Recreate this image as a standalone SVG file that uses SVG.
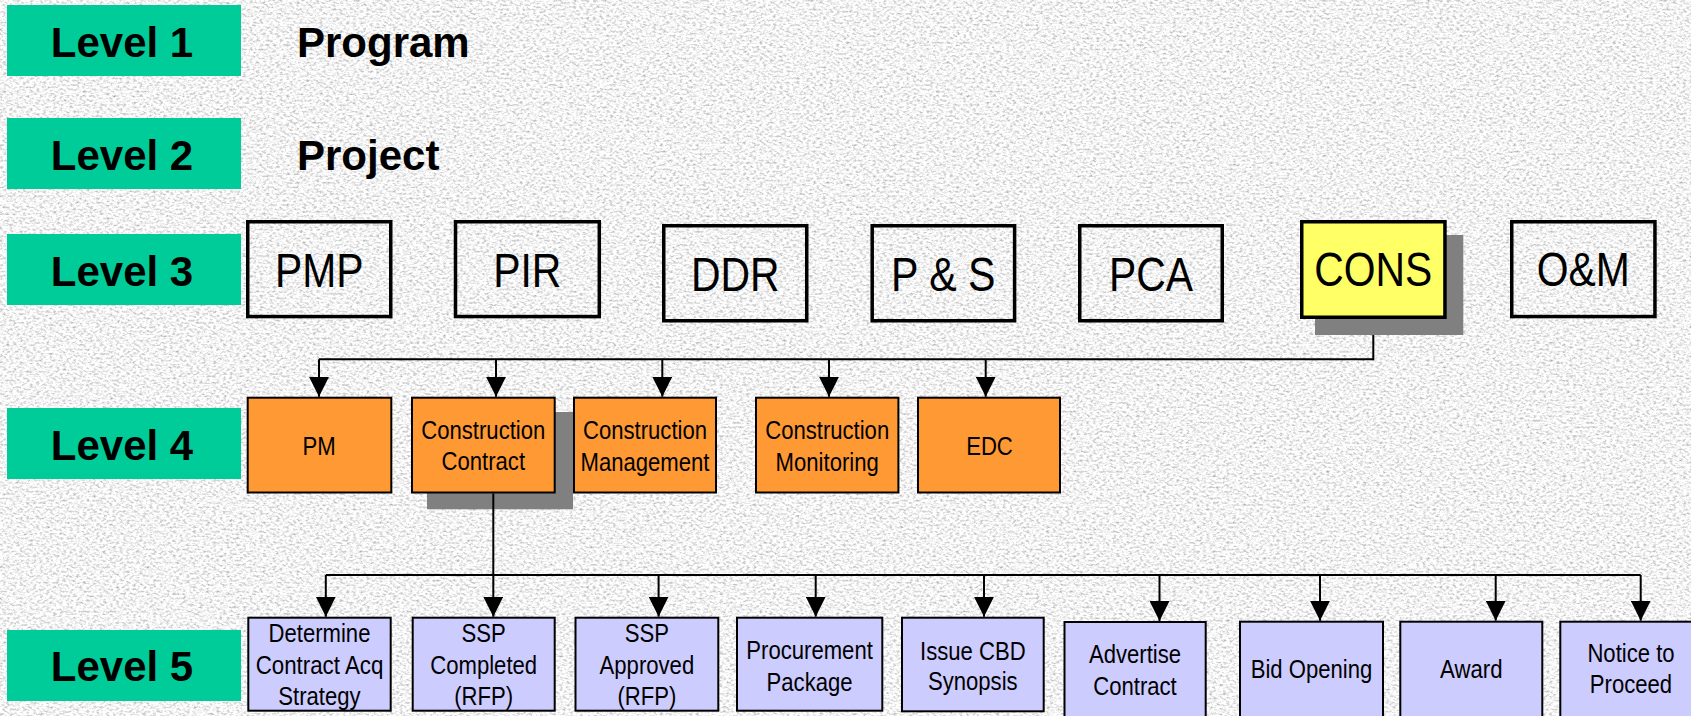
<svg xmlns="http://www.w3.org/2000/svg" width="1691" height="716" viewBox="0 0 1691 716">
<defs>
  <filter id="tex" x="0" y="0" width="1691" height="716" filterUnits="userSpaceOnUse">
    <feTurbulence type="fractalNoise" baseFrequency="0.3 0.45" numOctaves="3" seed="7" result="n"/>
    <feColorMatrix type="matrix" values="1.2 0 0 0 0.3  1.2 0 0 0 0.3  1.2 0 0 0 0.3  0 0 0 0 1"/>
  </filter>
  <marker id="arr" viewBox="0 0 20 20" refX="20" refY="10" markerWidth="20" markerHeight="20" orient="auto" markerUnits="userSpaceOnUse">
    <path d="M0,0 L20,10 L0,20 z" fill="#000"/>
  </marker>
  <style>
    .lvl { fill: #00CC99; }
    .lvlt { font-family: "Liberation Sans", Arial, sans-serif; font-weight: bold; font-size: 42px; fill: #000; }
    .l3 { fill: none; stroke: #000; stroke-width: 3.5; }
    .l3t { font-family: "Liberation Sans Narrow", "Liberation Sans", Arial, sans-serif; font-size: 47.5px; fill: #000; text-anchor: middle; }
    .l4 { fill: #FF9933; stroke: #000; stroke-width: 2; }
    .l5 { fill: #CCCCFF; stroke: #000; stroke-width: 2; }
    .bt { font-family: "Liberation Sans Narrow", "Liberation Sans", Arial, sans-serif; font-size: 25px; fill: #000; text-anchor: middle; }
    .sh { fill: #808080; }
    .cn { fill: none; stroke: #000; stroke-width: 2; }
    .ca { fill: none; stroke: #000; stroke-width: 2; marker-end: url(#arr); }
  </style>
</defs>

<rect x="0" y="0" width="1691" height="716" fill="#e6e6e6" filter="url(#tex)"/>

<g id="level-labels">
  <g id="level1"><rect class="lvl" x="7" y="5" width="234" height="71"/><text class="lvlt" x="122" y="56.7" text-anchor="middle">Level 1</text></g>
  <g id="level2"><rect class="lvl" x="7" y="118" width="234" height="71"/><text class="lvlt" x="122" y="170" text-anchor="middle">Level 2</text></g>
  <g id="level3"><rect class="lvl" x="7" y="234" width="234" height="71"/><text class="lvlt" x="122" y="285.5" text-anchor="middle">Level 3</text></g>
  <g id="level4"><rect class="lvl" x="7" y="408" width="234" height="71"/><text class="lvlt" x="122" y="459.5" text-anchor="middle">Level 4</text></g>
  <g id="level5"><rect class="lvl" x="7" y="630" width="234" height="71"/><text class="lvlt" x="122" y="681" text-anchor="middle">Level 5</text></g>
</g>

<g id="program"><text class="lvlt" x="297" y="56.7">Program</text></g>
<g id="project"><text class="lvlt" x="297" y="170">Project</text></g>

<g id="n-pmp"><rect class="l3" x="247.75" y="221.75" width="143" height="94.8"/><text class="l3t" x="319.3" y="287.3" textLength="88.5" lengthAdjust="spacingAndGlyphs">PMP</text></g>
<g id="n-pir"><rect class="l3" x="455.5" y="221.75" width="143.8" height="94.8"/><text class="l3t" x="527.3" y="287.3" textLength="68.1" lengthAdjust="spacingAndGlyphs">PIR</text></g>
<g id="n-ddr"><rect class="l3" x="663.75" y="225.75" width="143" height="95"/><text class="l3t" x="735.3" y="290.7" textLength="88.5" lengthAdjust="spacingAndGlyphs">DDR</text></g>
<g id="n-ps"><rect class="l3" x="872.2" y="225.75" width="142.4" height="95"/><text class="l3t" x="943.3" y="290.5" textLength="104.5" lengthAdjust="spacingAndGlyphs">P &amp; S</text></g>
<g id="n-pca"><rect class="l3" x="1079.75" y="225.75" width="142.5" height="95"/><text class="l3t" x="1151" y="290.7" textLength="84" lengthAdjust="spacingAndGlyphs">PCA</text></g>
<g id="n-cons"><rect class="sh" x="1315" y="235" width="148.3" height="100"/><rect x="1301.75" y="221.75" width="143.2" height="95.5" fill="#FFFF66" stroke="#000" stroke-width="3.5"/><text class="l3t" x="1373.3" y="286.2" textLength="118" lengthAdjust="spacingAndGlyphs">CONS</text></g>
<g id="n-om"><rect class="l3" x="1511.75" y="221.75" width="143.2" height="94.8"/><text class="l3t" x="1583.3" y="286.2" textLength="93.1" lengthAdjust="spacingAndGlyphs">O&amp;M</text></g>

<g id="n-pm"><rect class="l4" x="247.7" y="397.7" width="143.6" height="94.8"/><text class="bt" x="319" y="455" textLength="33.2" lengthAdjust="spacingAndGlyphs">PM</text></g>
<g id="n-cc"><rect class="sh" x="427" y="412" width="146" height="97.3"/><rect class="l4" x="412" y="397.7" width="142.7" height="94.8"/><text class="bt" x="483.3" y="438.7" textLength="124" lengthAdjust="spacingAndGlyphs">Construction</text><text class="bt" x="483.3" y="470" textLength="83.5" lengthAdjust="spacingAndGlyphs">Contract</text></g>
<g id="n-cm"><rect class="l4" x="574" y="397.7" width="142" height="94.8"/><text class="bt" x="645" y="439" textLength="124" lengthAdjust="spacingAndGlyphs">Construction</text><text class="bt" x="645" y="470.5" textLength="129" lengthAdjust="spacingAndGlyphs">Management</text></g>
<g id="n-cmon"><rect class="l4" x="756" y="397.7" width="142.4" height="94.8"/><text class="bt" x="827.2" y="439" textLength="124" lengthAdjust="spacingAndGlyphs">Construction</text><text class="bt" x="827.2" y="470.5" textLength="103.2" lengthAdjust="spacingAndGlyphs">Monitoring</text></g>
<g id="n-edc"><rect class="l4" x="918" y="397.7" width="142" height="94.8"/><text class="bt" x="989.5" y="455" textLength="46.7" lengthAdjust="spacingAndGlyphs">EDC</text></g>

<g id="n-dcas"><rect class="l5" x="248.3" y="617.7" width="142.4" height="93"/><text class="bt" x="319.5" y="642.3" textLength="101.9" lengthAdjust="spacingAndGlyphs">Determine</text><text class="bt" x="319.5" y="674" textLength="127.7" lengthAdjust="spacingAndGlyphs">Contract Acq</text><text class="bt" x="319.5" y="705" textLength="82.3" lengthAdjust="spacingAndGlyphs">Strategy</text></g>
<g id="n-sspc"><rect class="l5" x="412.7" y="617.7" width="142" height="93"/><text class="bt" x="483.7" y="642.3" textLength="44.2" lengthAdjust="spacingAndGlyphs">SSP</text><text class="bt" x="483.7" y="674" textLength="106.9" lengthAdjust="spacingAndGlyphs">Completed</text><text class="bt" x="483.7" y="705" textLength="58.9" lengthAdjust="spacingAndGlyphs">(RFP)</text></g>
<g id="n-sspa"><rect class="l5" x="575.5" y="617.7" width="142.8" height="93"/><text class="bt" x="646.9" y="642.3" textLength="44.2" lengthAdjust="spacingAndGlyphs">SSP</text><text class="bt" x="646.9" y="674" textLength="94.6" lengthAdjust="spacingAndGlyphs">Approved</text><text class="bt" x="646.9" y="705" textLength="58.9" lengthAdjust="spacingAndGlyphs">(RFP)</text></g>
<g id="n-proc"><rect class="l5" x="737" y="617.7" width="145.3" height="93"/><text class="bt" x="809.6" y="659" textLength="126.5" lengthAdjust="spacingAndGlyphs">Procurement</text><text class="bt" x="809.6" y="690.5" textLength="86" lengthAdjust="spacingAndGlyphs">Package</text></g>
<g id="n-cbd"><rect class="l5" x="902" y="617.7" width="141.7" height="93.6"/><text class="bt" x="972.8" y="660" textLength="105.6" lengthAdjust="spacingAndGlyphs">Issue CBD</text><text class="bt" x="972.8" y="690" textLength="89.7" lengthAdjust="spacingAndGlyphs">Synopsis</text></g>
<g id="n-adv"><rect class="l5" x="1064.5" y="622" width="141.2" height="100"/><text class="bt" x="1135" y="663.3" textLength="92.1" lengthAdjust="spacingAndGlyphs">Advertise</text><text class="bt" x="1135" y="695" textLength="83.5" lengthAdjust="spacingAndGlyphs">Contract</text></g>
<g id="n-bid"><rect class="l5" x="1240" y="621.7" width="143" height="100"/><text class="bt" x="1311.5" y="678.3" textLength="121.6" lengthAdjust="spacingAndGlyphs">Bid Opening</text></g>
<g id="n-award"><rect class="l5" x="1400.3" y="621.7" width="142" height="100"/><text class="bt" x="1471.3" y="678.3" textLength="62.6" lengthAdjust="spacingAndGlyphs">Award</text></g>
<g id="n-ntp"><rect class="l5" x="1560.3" y="621.7" width="143" height="100"/><text class="bt" x="1631" y="661.7" textLength="87.2" lengthAdjust="spacingAndGlyphs">Notice to</text><text class="bt" x="1631" y="693.3" textLength="82.3" lengthAdjust="spacingAndGlyphs">Proceed</text></g>

<g id="connectors">
  <path class="cn" d="M1373.3,335 V359.3 H319"/>
  <path class="ca" d="M319,359.3 V396.7"/>
  <path class="ca" d="M496,359.3 V396.7"/>
  <path class="ca" d="M662.3,359.3 V396.7"/>
  <path class="ca" d="M829,359.3 V396.7"/>
  <path class="ca" d="M985.7,359.3 V396.7"/>
  <path class="cn" d="M325.8,575 H1640.7"/>
  <path class="ca" d="M493.3,493.5 V616.7"/>
  <path class="ca" d="M325.8,575 V616.7"/>
  <path class="ca" d="M658.6,575 V616.7"/>
  <path class="ca" d="M815.7,575 V616.7"/>
  <path class="ca" d="M984,575 V616.7"/>
  <path class="ca" d="M1159.5,575 V621"/>
  <path class="ca" d="M1320,575 V620.7"/>
  <path class="ca" d="M1495.7,575 V620.7"/>
  <path class="ca" d="M1640.7,575 V620.7"/>
</g>
</svg>
